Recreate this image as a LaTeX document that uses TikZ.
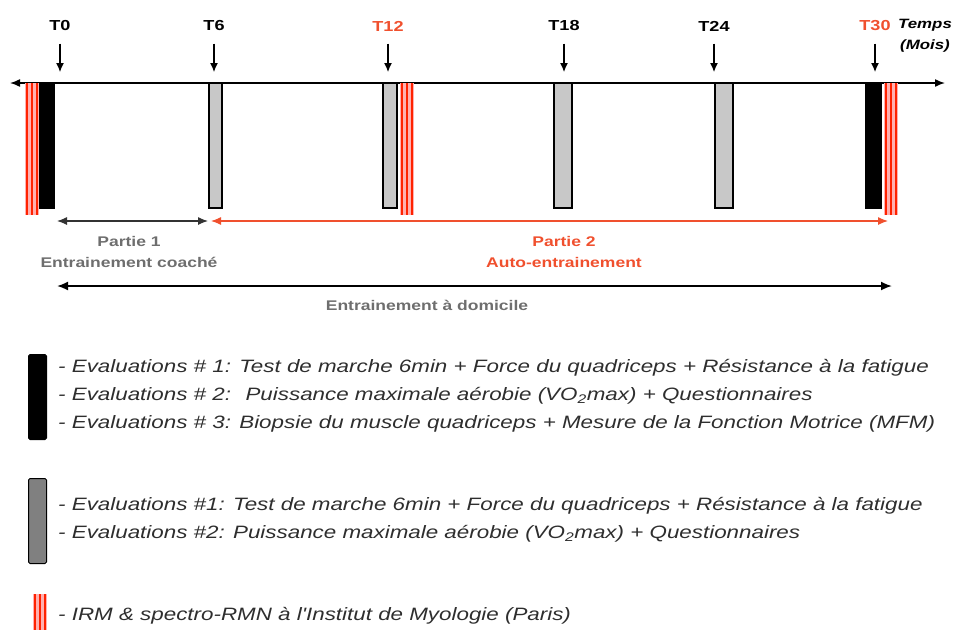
\documentclass[tikz,border=0pt]{standalone}
\usepackage{fontspec}
\setmainfont{Liberation Sans}
\newfontfamily\widefont[FakeStretch=1.25]{Liberation Sans}
\usetikzlibrary{arrows.meta}
\definecolor{tlred}{HTML}{F0502E}
\definecolor{irmred}{HTML}{FF2200}
\definecolor{irmpink}{HTML}{FFB0B0}
\definecolor{tlgray}{HTML}{6E6E6E}
\definecolor{barfill}{HTML}{C8C8C8}
\definecolor{legfill}{HTML}{808080}
\definecolor{legink}{HTML}{2E2E2E}
\tikzset{
  bar/.style={draw=black,line width=1.2pt,minimum height=125pt,inner sep=0pt,outer sep=0pt,anchor=north west},
  legbar/.style={draw=black,line width=1pt,rounded corners=1.5pt,minimum width=18pt,inner sep=0pt,anchor=north west},
  ticklab/.style={font=\widefont\bfseries\fontsize{14.5}{16}\selectfont},
  partlab/.style={align=center,font=\widefont\bfseries\fontsize{14}{21}\selectfont},
  templab/.style={align=center,font=\widefont\bfseries\itshape\fontsize{13.5}{21}\selectfont},
  leglab/.style={align=left,anchor=west,inner sep=0pt,text=legink,font=\widefont\itshape\fontsize{17.9}{28}\selectfont},
}

\begin{document}
\begin{tikzpicture}[x=1pt,y=-1pt]
\useasboundingbox (0,0) rectangle (955,630);
% time axis
\coordinate (axL) at (10,83);
\coordinate (axR) at (945,83);
\coordinate (tipline) at (0,72);
\draw[{Latex[length=10pt,width=8pt]}-{Latex[length=10pt,width=8pt]},line width=1.5pt] (axL) -- (axR);

% IRM / spectro-RMN
\foreach \x in {25,400,884} {
  \fill[irmpink] (\x,83) rectangle ++(14,132);
  \foreach \d in {2,7,12} \draw[irmred,line width=1.1pt] (\x+\d,83) -- ++(0,132);
}

% evaluation bars and time points
\foreach \x/\w/\fc/\lx/\lab/\col in {40/14/black/60/T0/black, 209/13/barfill/214/T6/black,
    383/14/barfill/388/T12/tlred, 554/18/barfill/564/T18/black,
    715/18/barfill/714/T24/black, 866/15/black/875/T30/tlred} {
  \node[bar,fill=\fc,minimum width=\w pt] (bar\lab) at (\x,83) {};
  \node[ticklab,text=\col] (\lab) at (\lx,26) {\lab};
  \draw[-{Latex[length=9pt,width=8pt]},line width=1.2pt] ([yshift=-9pt]\lab.south) -- (\lab |- tipline);
}
\node[templab] (temps) at (925,36) {Temps\\(Mois)};

% training periods
\coordinate (p1L) at (57,221);
\coordinate (p1R) at (208,221);
\coordinate (p2L) at (211,221);
\coordinate (p2R) at (888,221);
\coordinate (domL) at (57,286);
\coordinate (domR) at (892,286);
\draw[{Latex[length=10pt,width=8pt]}-{Latex[length=10pt,width=8pt]},line width=1.2pt,black!80] (p1L) -- (p1R);
\draw[{Latex[length=10pt,width=8pt]}-{Latex[length=10pt,width=8pt]},line width=1.2pt,tlred] (p2L) -- (p2R);
\draw[{Latex[length=11pt,width=9pt]}-{Latex[length=11pt,width=9pt]},line width=1.8pt] (domL) -- (domR);
\node[partlab,text=tlgray] (part1) at (129,252) {Partie 1\\Entrainement coaché};
\node[partlab,text=tlred] (part2) at (564,252) {Partie 2\\Auto-entrainement};
\node[partlab,text=tlgray] (dom) at (427,305) {Entrainement à domicile};

% legend
\node[legbar,fill=black,minimum height=85pt] (legA) at (28,354) {};
\node[legbar,fill=legfill,minimum height=85pt] (legB) at (28,478) {};
\fill[irmpink] (33,594) rectangle (47,630);
\foreach \d in {2,7,12} \draw[irmred,line width=1.1pt] (33+\d,594) -- (33+\d,630);
\node[leglab] (txtA) at (58,396) {- Evaluations \# 1: Test de marche 6min + Force du quadriceps + Résistance à la fatigue\\
  - Evaluations \# 2:~ Puissance maximale aérobie (VO\textsubscript{2}max) + Questionnaires\\
  - Evaluations \# 3: Biopsie du muscle quadriceps + Mesure de la Fonction Motrice (MFM)};
\node[leglab] (txtB) at (58,520) {- Evaluations \#1: Test de marche 6min + Force du quadriceps + Résistance à la fatigue\\
  - Evaluations \#2: Puissance maximale aérobie (VO\textsubscript{2}max) + Questionnaires};
\node[leglab] (txtC) at (58,616) {- IRM \& spectro-RMN à l'Institut de Myologie (Paris)};
\end{tikzpicture}
\end{document}
